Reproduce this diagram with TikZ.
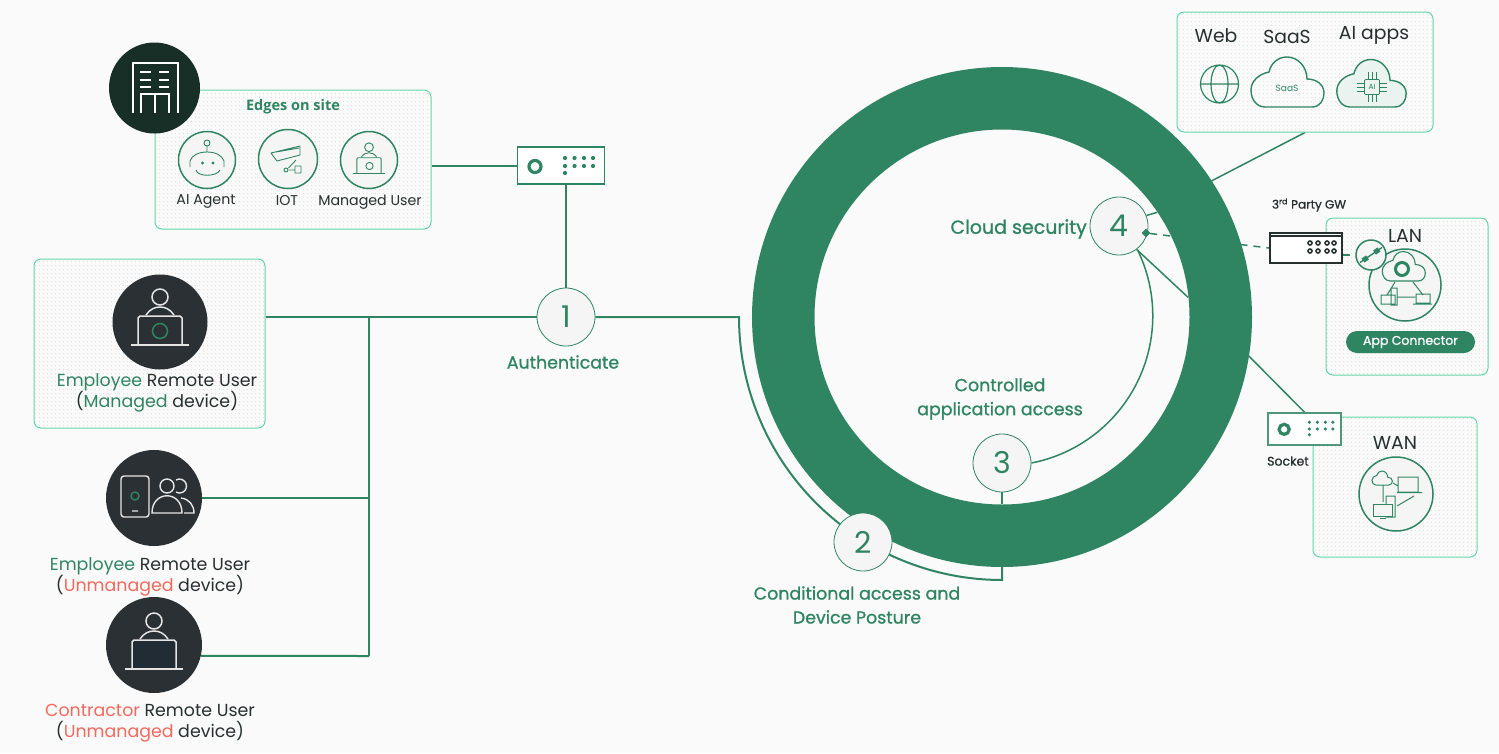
\documentclass[tikz,border=0pt]{standalone}
\usepackage{fontspec}
\setmainfont{Poppins}
\newfontfamily\medfont{Poppins}[FakeBold=1]
\newfontfamily\titlefont{Open Sans}
\usetikzlibrary{positioning,patterns.meta,shapes.geometric}

\definecolor{ringgreen}{HTML}{2F8562}
\definecolor{boxgreen}{HTML}{62D6AA}
\definecolor{inkdark}{HTML}{26302F}
\definecolor{disc}{HTML}{2B3034}
\definecolor{discdeep}{HTML}{182F28}
\definecolor{screen}{HTML}{212C35}
\definecolor{alert}{HTML}{F4695B}
\definecolor{pagebg}{HTML}{FAFAFA}
\definecolor{softbg}{HTML}{F5F5F5}

\pgfdeclarelayer{wires}
\pgfsetlayers{wires,main}

\tikzset{
  sitebox/.style={rectangle,rounded corners=7pt,draw=boxgreen,line width=1pt,inner sep=0pt,
    pattern={Dots[radius=.45pt,distance=4pt]},pattern color=black!20},
  wire/.style={draw=ringgreen,line width=2pt},
  thinwire/.style={draw=ringgreen,line width=1.5pt},
  stepdisc/.style={circle,draw=ringgreen,line width=.8pt,fill=softbg,minimum size=58pt,inner sep=0pt,
    text=ringgreen,font=\fontsize{30}{30}\selectfont},
  darkdisc/.style={circle,fill=disc,minimum size=95pt,inner sep=0pt},
  icondisc/.style={circle,draw=ringgreen,line width=1.5pt,fill=softbg,minimum size=57pt,inner sep=0pt},
  greenlabel/.style={align=center,text=ringgreen,inner sep=0pt,font=\medfont\fontsize{17.4}{24}\selectfont},
  userlabel/.style={align=center,text=inkdark,inner sep=0pt,font=\fontsize{17.4}{21}\selectfont},
  smalllabel/.style={align=center,text=inkdark,inner sep=0pt,font=\fontsize{14.2}{15}\selectfont},
  applabel/.style={align=center,text=inkdark,inner sep=0pt,font=\fontsize{18.8}{20}\selectfont},
  socketbox/.style={rectangle,draw=ringgreen,line width=1.8pt,fill=white,inner sep=0pt},
  pics/cloudshape/.style={code={
    \path[pic actions] (-22,0) -- (25,0) .. controls (33,0) and (37,-7) .. (37,-14)
      .. controls (37,-22) and (30,-28) .. (20,-28) .. controls (20,-40) and (11,-50) .. (0,-50)
      .. controls (-9,-50) and (-16,-44) .. (-18,-35) .. controls (-28,-33) and (-36,-26) .. (-36,-17)
      .. controls (-36,-7) and (-30,0) .. (-22,0) -- cycle;
  }},
  pics/laptopuser/.style={code={
    \path[pic actions] (0,-25) circle (8);
    \path[pic actions] (-14,-7) .. controls (-10,-13) and (-5,-15) .. (0,-15) .. controls (5,-15) and (10,-13) .. (14,-7);
    \path[pic actions] (-22,23) -- (-22,-4) -- (-20,-6) -- (20,-6) -- (22,-4) -- (22,23);
    \path[pic actions] (-29,23) -- (29,23);
  }},
  pics/socketface/.style={code={
    \draw[ringgreen,line width=3.2pt] (-26,1) circle (6);
    \foreach \dotx in {4,13.5,23,32}
      \foreach \doty in {-7.5,.5}
        \fill[ringgreen] (\dotx,\doty) circle (2.1);
    \fill[ringgreen] (4,7.5) circle (2.1);
  }}
}

\begin{document}
\begin{tikzpicture}[x=1pt,y=-1pt]
  \useasboundingbox (0,0) rectangle (1499,753);
  \begin{pgfonlayer}{wires}
    \fill[pagebg] (0,0) rectangle (1499,753);
  \end{pgfonlayer}

  % ring
  \node[circle,draw=ringgreen,line width=62.5pt,minimum size=437.5pt,inner sep=0pt] (ringmain) at (1002,317) {};
  \node[circle,minimum size=374pt,inner sep=0pt] (ringin) at (1002,317) {};

  % boxes
  \node[sitebox,minimum width=276pt,minimum height=139pt] (edgesbox) at (293,159.5) {};
  \node[sitebox,minimum width=231pt,minimum height=169pt] (employeebox) at (149.5,343.5) {};
  \node[sitebox,minimum width=256pt,minimum height=120pt] (appsbox) at (1305,72) {};
  \node[sitebox,minimum width=162pt,minimum height=157pt] (lanbox) at (1407,296.5) {};
  \node[sitebox,minimum width=164pt,minimum height=140pt] (wanbox) at (1395,487) {};

  % edges on site
  \node[circle,fill=discdeep,minimum size=91pt,inner sep=0pt] (sitedisc) at (154.5,88) {};
  \draw[white,line width=1.5pt] (133,113) -- (133,63) -- (178,63) -- (178,113)
    (141,113) -- (141,94) -- (169,94) -- (169,113) (155,94) -- (155,113);
  \foreach \rowy in {72,80,87}
    \draw[white,line width=1.5pt] (140,\rowy) -- (151,\rowy) (159,\rowy) -- (169,\rowy);
  \node[text=ringgreen,inner sep=0pt,font=\titlefont\bfseries\fontsize{14.5}{16}\selectfont] (edgestitle) at (293,107) {Edges on site};
  \node[icondisc] (agentdisc) at (207,160) {};
  \node[icondisc,minimum size=59pt] (iotdisc) at (288,159) {};
  \node[icondisc] (userdisc) at (369,160) {};
  \node[smalllabel] (agentlabel) at (206,201) {AI Agent};
  \node[smalllabel] (iotlabel) at (287,201) {IOT};
  \node[smalllabel] (userlabel) at (370,202) {Managed User};
  \draw[ringgreen,line width=.9pt] (207,143) circle (3) (207,146) -- (207,152)
    (190,167) -- (190,161) .. controls (192,155) and (199,152) .. (207,152) .. controls (215,152) and (222,155) .. (224,161) -- (224,167)
    (196,170) .. controls (197,177) and (217,177) .. (220,170);
  \fill[ringgreen] (202.5,163) circle (1.6) (213,163) circle (1.6);
  \draw[ringgreen,line width=.9pt,line join=round] (271,153) -- (300,146) -- (300,155) -- (277,161) -- cycle
    (276,152) -- (299,148) (296,160) -- (288.5,168) (289,170) -- (295,170) (295,166) rectangle (301,173) (286,170) circle (2);
  \pic[draw=ringgreen,line width=.9pt,scale=.55] at (369,161) {laptopuser};
  \draw[ringgreen,line width=.9pt] (369.5,166) circle (3.6);

  % users
  \node[darkdisc] (employeedisc) at (160,322) {};
  \pic[draw=white!90!black,line width=1.5pt] at (160,322) {laptopuser};
  \draw[ringgreen,line width=1.5pt] (160,331) circle (7.5);
  \node[userlabel] (employeelabel) at (157,393) {\textcolor{ringgreen}{Employee} Remote User\\(\textcolor{ringgreen}{Managed} device)};
  \node[darkdisc,minimum size=96pt] (unmanageddisc) at (154,498) {};
  \draw[white!90!black,line width=1.4pt,rounded corners=3pt] (121,476) rectangle (149,517);
  \draw[ringgreen,line width=1.4pt] (135,496) circle (4);
  \draw[white!90!black,line width=1.4pt] (132,511) -- (138,511) (167,486) circle (7)
    (152,513) .. controls (152,490) and (182,490) .. (182,513) -- cycle
    (176,480) arc[start angle=-120,end angle=120,radius=7]
    (181,498) .. controls (189,499) and (194,505) .. (194,513) -- (184,513);
  \node[userlabel] (unmanagedlabel) at (150,577) {\textcolor{ringgreen}{Employee} Remote User\\(\textcolor{alert}{Unmanaged} device)};
  \node[darkdisc,minimum size=96pt] (contractordisc) at (154,645) {};
  \fill[screen] (132,641) rectangle (176,669);
  \pic[draw=white!90!black,line width=1.5pt] at (154,646) {laptopuser};
  \node[userlabel] (contractorlabel) at (150,723) {\textcolor{alert}{Contractor} Remote User\\(\textcolor{alert}{Unmanaged} device)};

  % socket and steps
  \node[socketbox,minimum width=87pt,minimum height=37pt] (edgesocket) at (561,165.5) {};
  \pic at (561,165.5) {socketface};
  \node[stepdisc] (step1) at (566,317) {1};
  \node[stepdisc] (step2) at (863,542) {2};
  \node[stepdisc] (step3) at (1002,463) {3};
  \node[stepdisc] (step4) at (1119,226) {4};
  \node[diamond,fill=ringgreen,minimum size=9pt,inner sep=0pt] (gwtip) at (1146,233) {};
  \node[greenlabel] (authlabel) at (563,362) {Authenticate};
  \node[greenlabel,font=\medfont\fontsize{19}{24}\selectfont,anchor=east] (cloudlabel) at (1087,229) {Cloud security};
  \node[greenlabel] (accesslabel) at (1000,399) {Controlled\\application access};
  \node[greenlabel] (posturelabel) at (857,605) {Conditional access and\\Device Posture};

  % apps
  \node[applabel] (weblabel) at (1216,36) {Web};
  \node[applabel] (saaslabel) at (1287,37) {SaaS};
  \node[applabel] (ailabel) at (1374,35) {AI apps};
  \draw[ringgreen,line width=1.2pt] (1219.5,84) circle (19) (1219.5,84) ellipse (8.5 and 19) (1200.5,84) -- (1238.5,84);
  \pic[draw=ringgreen,line width=1.4pt] at (1287,107) {cloudshape};
  \node[text=ringgreen,inner sep=0pt,font=\fontsize{9}{9}\selectfont] (saasmark) at (1287,88) {SaaS};
  \pic[draw=ringgreen,fill=ringgreen!10,line width=1.4pt,scale=.95] at (1371,107) {cloudshape};
  \node[rectangle,draw=ringgreen,line width=.7pt,rounded corners=1pt,minimum size=15pt,inner sep=0pt,text=ringgreen,font=\fontsize{7.5}{8}\selectfont] (aichip) at (1372,87) {AI};
  \foreach \pinoff in {-4,0,4}
    \draw[ringgreen,line width=.7pt] (1372+\pinoff,72) -- (1372+\pinoff,79.5) (1372+\pinoff,94.5) -- (1372+\pinoff,102)
      (1357,87+\pinoff) -- (1364.5,87+\pinoff) (1379.5,87+\pinoff) -- (1387,87+\pinoff);

  % lan
  \node[socketbox,draw=inkdark,line width=2pt,minimum width=72pt,minimum height=30pt] (gateway) at (1306,248) {};
  \draw[inkdark,line width=1.2pt] (gateway.north west) ++(0,4) -- ++(72,0);
  \foreach \dotx in {1310,1318,1327,1334}
    \foreach \doty in {243,251}
      \draw[inkdark,line width=1.6pt] (\dotx,\doty) circle (2);
  \node[text=inkdark,inner sep=0pt,font=\medfont\fontsize{12}{12}\selectfont] (gwlabel) at (1309,205) {3\textsuperscript{rd} Party GW};
  \node[applabel] (lanlabel) at (1405,236) {LAN};
  \node[icondisc,minimum size=72pt] (landisc) at (1405,285) {};
  \pic[draw=ringgreen,fill=softbg,line width=1.1pt,scale=.59] at (1403.5,281) {cloudshape};
  \draw[ringgreen,line width=3pt] (1402,269) circle (6.5);
  \draw[ringgreen,line width=1pt] (1395,282) -- (1387,295) (1413,282) -- (1423,295) (1397,297) -- (1415,297)
    (1391,288) rectangle (1397,305) (1381,295) rectangle (1395,304) (1416,294) rectangle (1430,303) (1413,304) -- (1432,304);
  \node[icondisc,minimum size=30pt] (plugdisc) at (1371,255) {};
  \draw[ringgreen,line width=5pt] (1363,260.5) -- (1367.5,257.5) (1374.5,252.5) -- (1379,249.5);
  \draw[ringgreen,line width=1.4pt] (1360,262.5) -- (1382,247.5);
  \node[rectangle,rounded corners=11pt,fill=ringgreen,minimum width=129pt,minimum height=22pt,inner sep=0pt,text=white,font=\medfont\fontsize{12.5}{12}\selectfont] (connectorpill) at (1410.5,342) {App Connector};

  % wan
  \node[socketbox,line width=1.6pt,draw=ringgreen!85!white,minimum width=73pt,minimum height=32pt] (wansocket) at (1304.5,429) {};
  \pic[scale=.84] at (1306,428.5) {socketface};
  \node[text=inkdark,inner sep=0pt,font=\medfont\fontsize{12.5}{13}\selectfont] (socketlabel) at (1288,461) {Socket};
  \node[applabel] (wanlabel) at (1395,443) {WAN};
  \node[icondisc,minimum size=74pt] (wandisc) at (1396,494) {};
  \pic[draw=ringgreen,line width=1pt,scale=.28] at (1382,485) {cloudshape};
  \draw[ringgreen,line width=1pt] (1383,485) -- (1383,502) (1393,483) -- (1398,486) (1397,506) -- (1414,496)
    (1386,496) rectangle (1395,517) (1398,477) rectangle (1418,492) (1397,492.5) -- (1422,492.5);
  \draw[ringgreen,line width=1pt,fill=softbg] (1373,504) rectangle (1392,516);
  \draw[ringgreen,line width=1pt] (1380,518) -- (1386,518);

  % connectors
  \begin{pgfonlayer}{wires}
    \coordinate (busjoin) at (369,317);
    \coordinate (bustail) at (369,656);
    \coordinate (arcleft) at (739,317);
    \coordinate (arcbottom) at (1002,580);
    \draw[wire] (employeebox.east |- step1) -- (step1.west);
    \draw[wire] (busjoin) -- (bustail);
    \draw[wire] (unmanageddisc.east) -- (unmanageddisc.east -| busjoin);
    \draw[wire] (contractordisc.-13) -- (bustail);
    \draw[wire] (edgesbox.east |- edgesocket) -- (edgesocket.west);
    \draw[wire] (edgesocket.south -| step1) -- (step1.north);
    \draw[wire] (step1.east) -- (arcleft) arc[start angle=180,end angle=122,radius=263];
    \draw[wire] (ringmain.south) -- (arcbottom) arc[start angle=90,end angle=122,radius=263];
    \draw[thinwire] (step3.south) -- (ringin.south);
    \draw[thinwire] (step3.east) arc[start angle=79,end angle=-26,radius=150];
    \draw[thinwire] (step4.21) -- (ringin.34);
    \draw[thinwire] (step4.-53) -- (ringin.6);
    \draw[thinwire] (appsbox.south) -- (ringmain.33);
    \draw[thinwire] (wansocket.north) -- (ringmain.-9);
    \draw[thinwire,dashed,dash pattern=on 7pt off 6pt] (gwtip) -- (gateway.west);
    \draw[thinwire,dashed,dash pattern=on 7pt off 6pt] (gateway.east |- plugdisc) -- (plugdisc.west);
  \end{pgfonlayer}
\end{tikzpicture}
\end{document}
